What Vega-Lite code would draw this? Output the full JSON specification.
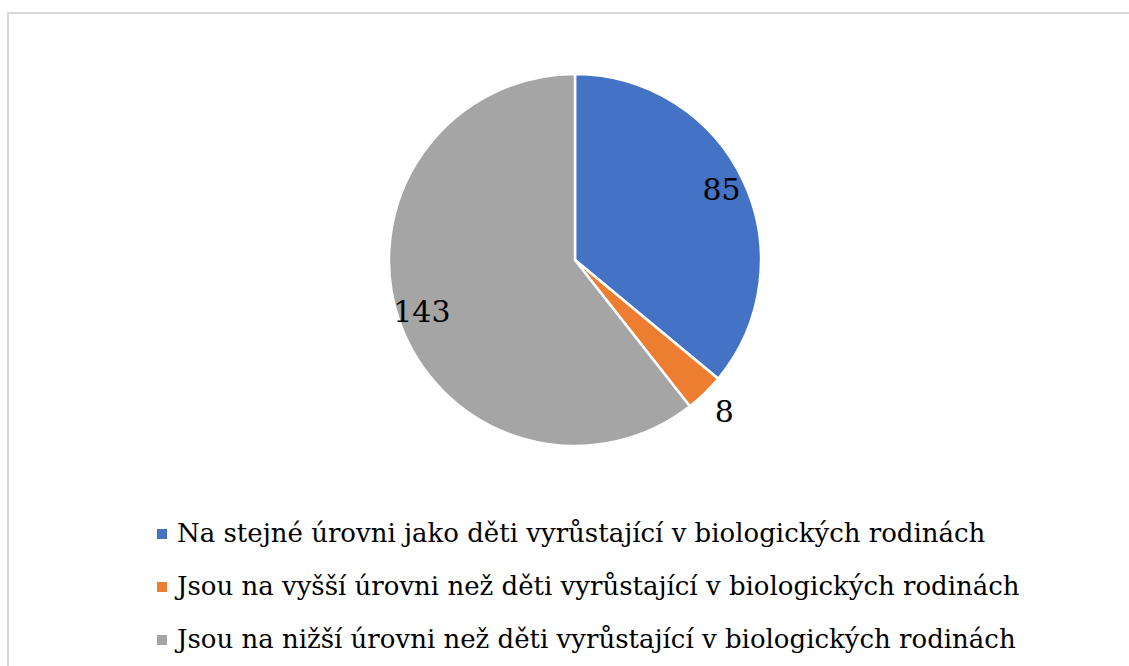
{
  "$schema": "https://vega.github.io/schema/vega-lite/v6.json",
  "width": 1129,
  "height": 666,
  "autosize": {"type": "fit", "contains": "padding"},
  "padding": {"left": 7, "top": 12, "right": -5, "bottom": -5},
  "background": "white",
  "config": {
    "view": {"stroke": null},
    "font": "DejaVu Serif"
  },
  "data": {
    "values": [
      {"i": 1, "kat": "Na stejné úrovni jako děti vyrůstající v biologických rodinách", "n": 85},
      {"i": 2, "kat": "Jsou na vyšší úrovni než děti vyrůstající v biologických rodinách", "n": 8},
      {"i": 3, "kat": "Jsou na nižší úrovni než děti vyrůstající v biologických rodinách", "n": 143}
    ]
  },
  "layer": [
    {
      "mark": {"type": "rect", "fill": null, "stroke": "#d9d9d9", "strokeWidth": 2},
      "encoding": {}
    },
    {
      "mark": {
        "type": "arc",
        "outerRadius": 186,
        "stroke": "white",
        "strokeWidth": 2.5,
        "x": {"expr": "width/2 + 4.5"},
        "y": {"expr": "height/2 - 81.5"}
      },
      "encoding": {
        "theta": {"field": "n", "type": "quantitative", "stack": true},
        "order": {"field": "i", "type": "quantitative"},
        "color": {
          "field": "kat",
          "type": "nominal",
          "sort": null,
          "scale": {
            "domain": [
              "Na stejné úrovni jako děti vyrůstající v biologických rodinách",
              "Jsou na vyšší úrovni než děti vyrůstající v biologických rodinách",
              "Jsou na nižší úrovni než děti vyrůstající v biologických rodinách"
            ],
            "range": ["#4472C4", "#ED7D31", "#A5A5A5"]
          },
          "legend": {
            "title": null,
            "orient": "none",
            "legendX": 141,
            "legendY": 508,
            "direction": "vertical",
            "symbolType": "square",
            "symbolSize": 100,
            "symbolStrokeWidth": 0,
            "labelFont": "DejaVu Serif",
            "labelFontSize": 26,
            "labelColor": "#000000",
            "labelLimit": 1000,
            "labelOffset": 2,
            "rowPadding": 27,
            "padding": 0
          }
        }
      }
    },
    {
      "mark": {
        "type": "text",
        "radius": 162,
        "fontSize": 30,
        "font": "DejaVu Serif",
        "color": "#000000",
        "x": {"expr": "width/2 + 4.5"},
        "y": {"expr": "height/2 - 81.5"}
      },
      "encoding": {
        "theta": {"field": "n", "type": "quantitative", "stack": true},
        "order": {"field": "i", "type": "quantitative"},
        "text": {"condition": {"test": "datum.n > 20", "field": "n", "type": "quantitative"}, "value": ""}
      }
    },
    {
      "mark": {
        "type": "text",
        "radius": 214,
        "fontSize": 30,
        "font": "DejaVu Serif",
        "color": "#000000",
        "x": {"expr": "width/2 + 4.5"},
        "y": {"expr": "height/2 - 81.5"}
      },
      "encoding": {
        "theta": {"field": "n", "type": "quantitative", "stack": true},
        "order": {"field": "i", "type": "quantitative"},
        "text": {"condition": {"test": "datum.n <= 20", "field": "n", "type": "quantitative"}, "value": ""}
      }
    }
  ]
}
